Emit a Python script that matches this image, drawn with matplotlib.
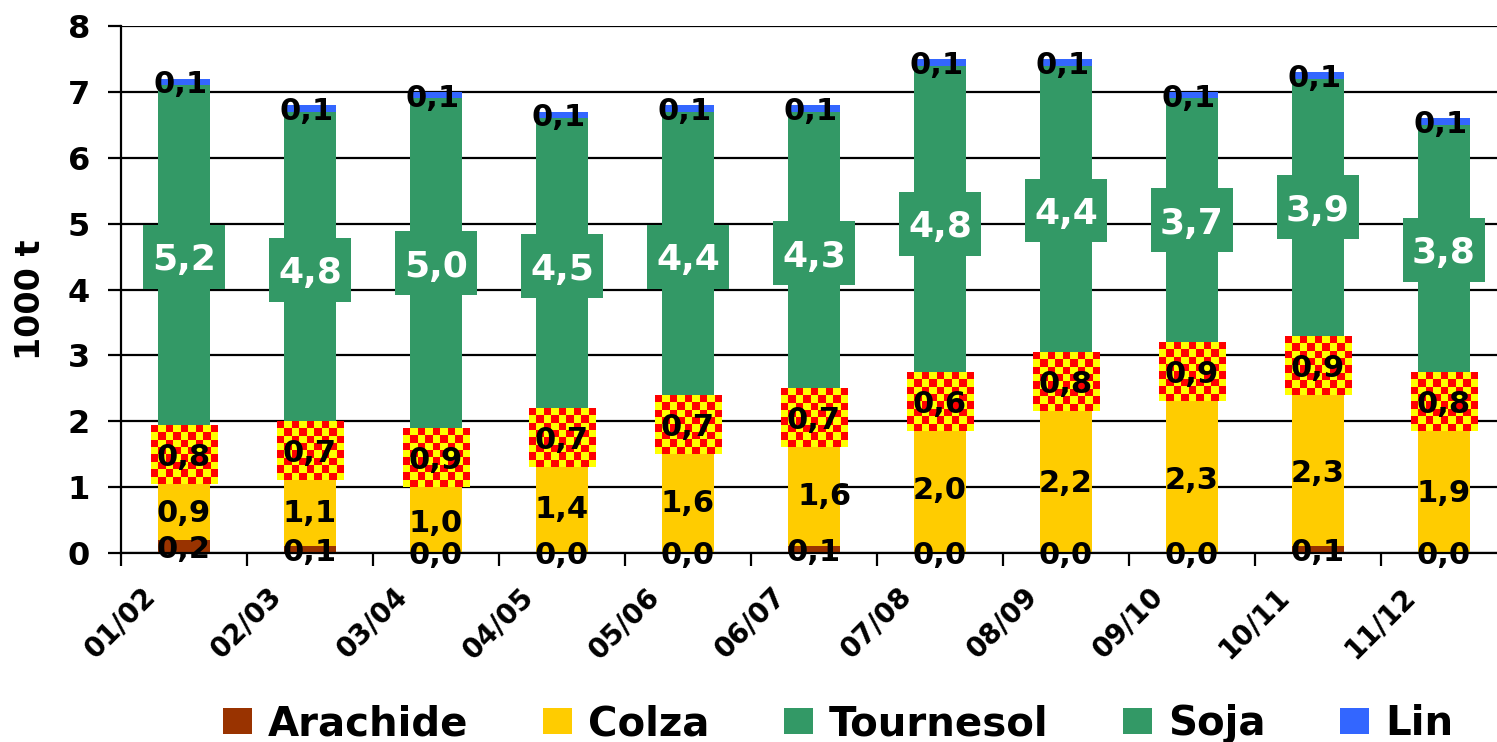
import numpy as np
import matplotlib
matplotlib.use("Agg")
import matplotlib.pyplot as plt
from matplotlib.patches import Rectangle, Patch
from matplotlib.transforms import ScaledTranslation

# Campagnes et volumes (1000 t)
campagnes = ["01/02", "02/03", "03/04", "04/05", "05/06", "06/07",
             "07/08", "08/09", "09/10", "10/11", "11/12"]
arachide = [0.2, 0.1, 0.0, 0.0, 0.0, 0.1, 0.0, 0.0, 0.0, 0.1, 0.0]
colza = [0.9, 1.1, 1.0, 1.4, 1.6, 1.6, 2.0, 2.2, 2.3, 2.3, 1.9]
tournesol = [0.8, 0.7, 0.9, 0.7, 0.7, 0.7, 0.6, 0.8, 0.9, 0.9, 0.8]
soja = [5.2, 4.8, 5.0, 4.5, 4.4, 4.3, 4.8, 4.4, 3.7, 3.9, 3.8]
lin = [0.1, 0.1, 0.1, 0.1, 0.1, 0.1, 0.1, 0.1, 0.1, 0.1, 0.1]

noms = ["Arachide", "Colza", "Tournesol", "Soja", "Lin"]
couleurs = ["#993300", "#FFCC00", "#339966", "#339966", "#3366FF"]
valeurs = [arachide, colza, tournesol, soja, lin]

plt.rcParams["font.family"] = "DejaVu Sans"
plt.rcParams["font.weight"] = "bold"

W, H = 1497, 742
fig = plt.figure(figsize=(W / 100, H / 100), dpi=100)
fig.patch.set_facecolor("white")
ax = fig.add_axes([121 / W, (H - 553) / H, (1507 - 121) / W, 527 / H])

x = np.arange(len(campagnes))
largeur = 0.41


def fmt(v):
    return f"{v:.1f}".replace(".", ",")


def damier(nx, ny):
    ii, jj = np.indices((ny, nx))
    rouge = np.array([1.0, 0.0, 0.0])
    jaune = np.array([1.0, 1.0, 0.0])
    return np.where(((ii + jj) % 2 == 0)[..., None], rouge, jaune)


base = np.zeros(len(campagnes))
milieux = []
for nom, vals, c in zip(noms, valeurs, couleurs):
    vals = np.array(vals, dtype=float)
    ax.bar(x, vals, largeur, bottom=base, color=c, edgecolor="none", zorder=2)
    milieux.append(base + vals / 2)
    base = base + vals

m_ara, m_col, m_tou, m_soj, m_lin = milieux
lbl = dict(ha="center", va="center_baseline", zorder=6)

# Étiquettes Arachide / Colza
for i in x:
    ax.text(i, m_ara[i], fmt(arachide[i]), fontsize=22, color="black", **lbl)
    dx = 0.08 if campagnes[i] == "06/07" else 0.0
    ax.text(i + dx, m_col[i], fmt(colza[i]), fontsize=22, color="black", **lbl)

# Étiquettes Tournesol sur fond en damier
img = damier(9, 8)
bw, bh = 0.53, 0.89
for i in x:
    ax.imshow(img, extent=[i - bw / 2, i + bw / 2, m_tou[i] - bh / 2, m_tou[i] + bh / 2],
              interpolation="nearest", aspect="auto", zorder=4)
    ax.text(i, m_tou[i], fmt(tournesol[i]), fontsize=22, color="black", **lbl)

# Étiquettes Soja sur fond vert
sw, sh = 0.643, 0.97
for i in x:
    ax.add_patch(Rectangle((i - sw / 2, m_soj[i] - sh / 2), sw, sh,
                           facecolor="#339966", edgecolor="none", zorder=4))
    ax.text(i, m_soj[i], fmt(soja[i]), fontsize=26, color="white", **lbl)

# Étiquettes Lin
for i in x:
    ax.text(i - 0.03, m_lin[i], fmt(lin[i]), fontsize=22, color="black", **lbl)

# Axes
ax.set_xlim(-0.5, len(campagnes) - 0.5)
ax.set_ylim(0, 8)
ax.set_yticks(range(9))
ax.yaxis.grid(True, color="black", linewidth=1.6)
ax.set_axisbelow(True)
for s in ["top", "right"]:
    ax.spines[s].set_visible(False)
for s in ["left", "bottom"]:
    ax.spines[s].set_linewidth(1.6)
    ax.spines[s].set_color("black")

ax.tick_params(axis="y", length=9.4, width=1.6, pad=13, labelsize=23)
ax.set_xticks(x)
ax.set_xticklabels(campagnes, rotation=45, ha="right", va="top",
                   fontsize=20, fontweight="bold")
ax.tick_params(axis="x", which="major", length=0, pad=21)
ax.set_xticks(np.arange(-0.5, len(campagnes), 1.0), minor=True)
ax.tick_params(axis="x", which="minor", length=9, width=1.6)
decal = ScaledTranslation(-0.23, 0, fig.dpi_scale_trans)
for lab in ax.get_xticklabels():
    lab.set_transform(lab.get_transform() + decal)

fig.text(30 / W, 1 - 300 / H, "1000 t", rotation=90, ha="center", va="center",
         fontsize=24, fontweight="bold")

handles = [Patch(facecolor=c, edgecolor="none") for c in couleurs]
fig.legend(handles, noms, loc="center", bbox_to_anchor=(838 / W, 18 / H),
           ncol=5, frameon=False, prop={"weight": "bold", "size": 29},
           handlelength=0.72, handleheight=0.62, handletextpad=0.4,
           columnspacing=1.85, borderaxespad=0, borderpad=0)

fig.savefig("out.png", dpi=100, facecolor="white")
